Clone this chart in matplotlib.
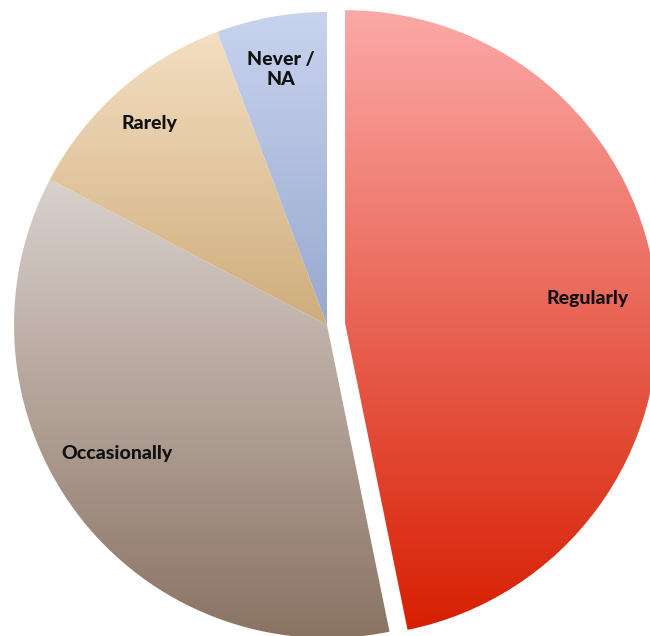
import numpy as np
import matplotlib
matplotlib.use("Agg")
import matplotlib.pyplot as plt
from matplotlib.colors import LinearSegmentedColormap

# Share of answers (percent)
labels = ["Regularly", "Occasionally", "Rarely", "Never /\nNA"]
values = [46.8, 35.9, 11.6, 5.7]

# top / bottom colour of each slice gradient
top_colors = ["#fba9a7", "#dad1cd", "#f4dfc2", "#c8d3ee"]
bottom_colors = ["#d71f02", "#8a7363", "#cfad7c", "#98a8cf"]
explode = [0.058, 0, 0, 0]
label_r = [0.78, 0.787, 0.86, 0.83]
label_shift = [0, -5.4, 0, 0]  # degrees

fig = plt.figure(figsize=(6.5, 6.36), dpi=100)
ax = fig.add_axes([0, 0, 1, 1])

wedges, texts = ax.pie(values, labels=labels, explode=explode, startangle=90,
                       counterclock=False, labeldistance=0.8,
                       wedgeprops=dict(linewidth=0),
                       textprops=dict(fontsize=14, fontweight="black",
                                      family=["Lato", "DejaVu Sans"],
                                      ha="center", va="center",
                                      linespacing=1.2))

ax.set_aspect("equal")
ax.axis("off")

grad = np.linspace(0, 1, 256).reshape(-1, 1)
for w, t, c1, c2, r, s in zip(wedges, texts, top_colors, bottom_colors,
                              label_r, label_shift):
    cmap = LinearSegmentedColormap.from_list("g", [c1, c2])
    bb = w.get_path().get_extents(w.get_patch_transform())
    w.set_facecolor("none")
    im = ax.imshow(grad, cmap=cmap, extent=(bb.x0, bb.x1, bb.y0, bb.y1),
                   origin="upper", aspect="auto", zorder=1)
    im.set_clip_path(w)
    # move label to its own radius along the slice middle
    mid = np.deg2rad((w.theta1 + w.theta2) / 2 + s)
    cx, cy = w.center
    t.set_position((cx + r * np.cos(mid), cy + r * np.sin(mid)))
    t.set_zorder(3)
    t.set_color("#111111")

ax.set_xlim(-327 / 313, 323 / 313)
ax.set_ylim(-311 / 313, 325 / 313)

fig.savefig("out.png", dpi=100)
